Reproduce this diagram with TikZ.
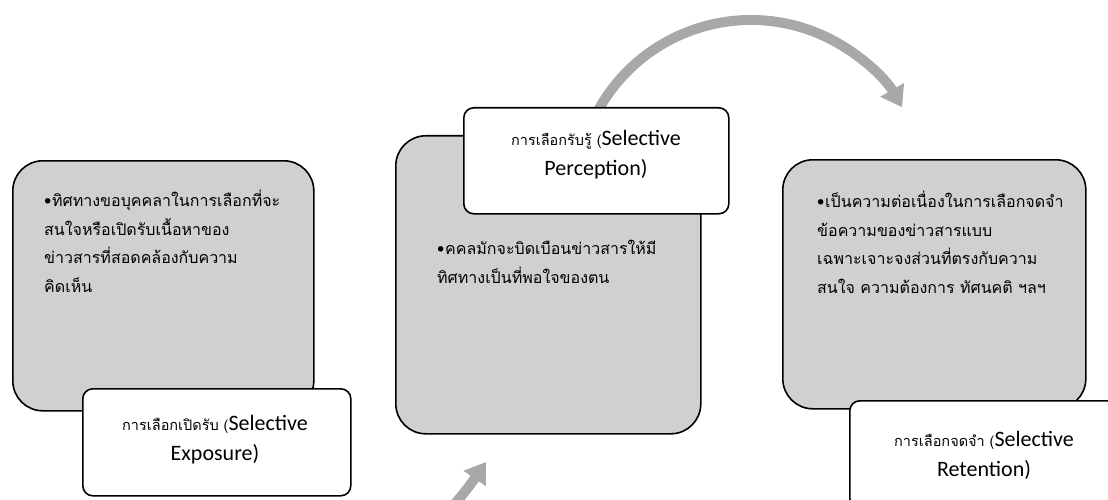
\documentclass[tikz,border=0pt]{standalone}
\usepackage{fontspec}
\setmainfont{Carlito}
\newfontfamily\thai[Script=Thai]{Loma}
\usetikzlibrary{arrows.meta}
\definecolor{boxgray}{RGB}{208,208,208}
\definecolor{arrowgray}{RGB}{168,168,168}
\tikzset{
  graybox/.style={draw=black, line width=1.6pt, fill=boxgray, rounded corners=30pt,
    anchor=north west, inner sep=0pt},
  labelbox/.style={draw=black, line width=1.6pt, fill=white, rounded corners=10pt,
    anchor=north west, inner sep=0pt},
  bullettext/.style={anchor=north west, inner sep=0pt, text width=320pt,
    font=\thai\fontsize{16}{28.5}\selectfont},
  labeltext/.style={align=center, inner sep=0pt, font=\fontsize{22}{30}\selectfont},
  cyclearrow/.style={draw=arrowgray, line width=10pt,
    -{Triangle[width=26pt,length=20pt]}},
}
\newcommand{\thlab}[1]{{\thai\fontsize{14.5}{30}\selectfont #1}}
\newcommand{\bul}{\hangindent=8pt\hangafter=1\noindent\makebox[8pt][l]{•}}
\begin{document}
\begin{tikzpicture}[x=1pt,y=-1pt]
\clip (0,0) rectangle (1108,500);
\fill[white] (0,0) rectangle (1108,500);

% connector coordinates
\coordinate (topstart) at ({751+174.5*cos(-153)},{194.5+174.5*sin(-153)});
\coordinate (bottomstart) at (436,525);

% arrows (behind boxes)
\draw[cyclearrow] (topstart) arc[start angle=-153, end angle=-30, radius=174.5] coordinate (topend);
\coordinate (bottomend) at (486,462);
\draw[cyclearrow] (bottomstart) to[bend right=4] (bottomend);

% box 1
\node[graybox, minimum width=301pt, minimum height=250pt] (box1) at (12,160) {};
\node[bullettext] (text1) at (44,190) {\bul ทิศทางขอบุคคลาในการเลือกที่จะ\\สนใจหรือเปิดรับเนื้อหาของ\\ข่าวสารที่สอดคล้องกับความ\\คิดเห็น};
\node[labelbox, minimum width=268pt, minimum height=107pt] (lab1) at (82,388) {};
\node[labeltext] (lt1) at (215,440) {\thlab{การเลือกเปิดรับ (}Selective\\Exposure)};

% box 2
\node[graybox, minimum width=305pt, minimum height=298pt] (box2) at (395,135) {};
\node[bullettext] (text2) at (437,240) {\bul คคลมักจะบิดเบือนข่าวสารให้มี\\ทิศทางเป็นที่พอใจของตน};
\node[labelbox, minimum width=265pt, minimum height=106pt] (lab2) at (463,107) {};
\node[labeltext] (lt2) at (596,155) {\thlab{การเลือกรับรู้ (}Selective\\Perception)};

% box 3
\node[graybox, minimum width=303pt, minimum height=249pt] (box3) at (782,159) {};
\node[bullettext] (text3) at (817,191) {\bul เป็นความต่อเนื่องในการเลือกจดจำ\\ข้อความของข่าวสารแบบ\\เฉพาะเจาะจงส่วนที่ตรงกับความ\\สนใจ ความต้องการ ทัศนคติ ฯลฯ};
\node[labelbox, minimum width=272pt, minimum height=108pt] (lab3) at (849,400) {};
\node[labeltext] (lt3) at (984,455) {\thlab{การเลือกจดจำ (}Selective\\Retention)};
\end{tikzpicture}
\end{document}
